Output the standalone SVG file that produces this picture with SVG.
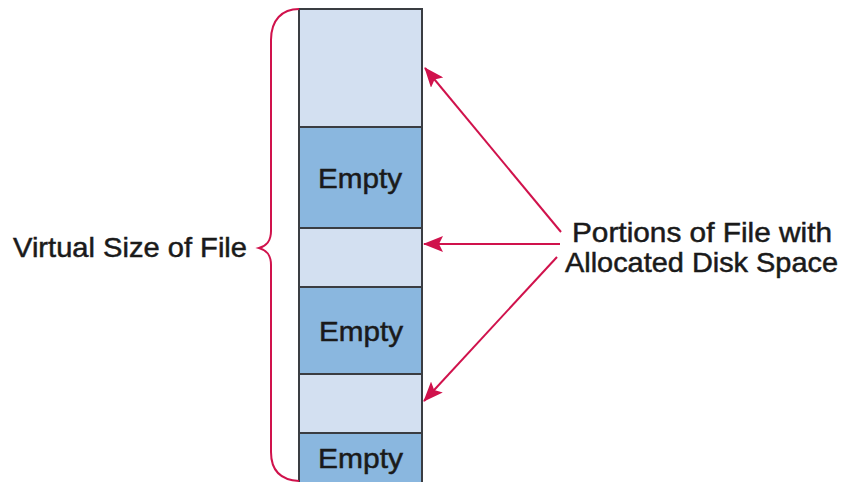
<svg xmlns="http://www.w3.org/2000/svg" width="841" height="482" viewBox="0 0 841 482">
  <style>
    .alloc { fill: #d3e0f1; stroke: #3a3d42; stroke-width: 2; }
    .empty { fill: #8ab7df; stroke: #3a3d42; stroke-width: 2; }
    .lbl { font-family: "Liberation Sans", Arial, sans-serif; font-size: 28px; fill: #1a1a1a; stroke: #1a1a1a; stroke-width: 0.5; }
    .mid { text-anchor: middle; }
    .red { stroke: #d0124c; stroke-width: 2; fill: none; }
  </style>
  <defs>
    <marker id="arrowheadL" viewBox="0 0 20 16" refX="19" refY="8" markerWidth="20" markerHeight="16" markerUnits="userSpaceOnUse" orient="auto">
      <path d="M0,0 L20,8 L0,16 L4,8 z" fill="#d0124c"/>
    </marker>
  </defs>

  <!-- file blocks, top to bottom -->
  <g id="block1"><rect class="alloc" x="299" y="9" width="123" height="118"/></g>
  <g id="block2"><rect class="empty" x="299" y="127" width="123" height="101"/>
    <text class="lbl" x="318" y="188" font-size="29" textLength="84" lengthAdjust="spacingAndGlyphs">Empty</text></g>
  <g id="block3"><rect class="alloc" x="299" y="228" width="123" height="59"/></g>
  <g id="block4"><rect class="empty" x="299" y="287" width="123" height="87"/>
    <text class="lbl" x="319" y="341" font-size="29" textLength="84" lengthAdjust="spacingAndGlyphs">Empty</text></g>
  <g id="block5"><rect class="alloc" x="299" y="374" width="123" height="59"/></g>
  <g id="block6"><rect class="empty" x="299" y="433" width="123" height="60"/>
    <text class="lbl" x="318" y="468" font-size="29" textLength="85" lengthAdjust="spacingAndGlyphs">Empty</text></g>

  <!-- brace spanning the whole file -->
  <g id="brace">
    <path class="red" d="M299,9 C282,9 271,20 271,40 L271,231 C271,242 266,246 259,248 C266,250 271,254 271,265 L271,452 C271,470 280,480 299,481"/>
  </g>

  <g id="label-virtual">
    <text class="lbl" x="13" y="257" font-size="29" textLength="234" lengthAdjust="spacingAndGlyphs">Virtual Size of File</text>
  </g>

  <g id="label-allocated">
    <text class="lbl" x="572" y="242" textLength="260" lengthAdjust="spacingAndGlyphs">Portions of File with</text>
    <text class="lbl" x="565" y="272" textLength="273" lengthAdjust="spacingAndGlyphs">Allocated Disk Space</text>
  </g>

  <!-- connectors -->
  <g id="connectors">
    <line class="red" x1="561" y1="232" x2="425" y2="68" marker-end="url(#arrowheadL)"/>
    <line class="red" x1="560" y1="244" x2="424" y2="244" marker-end="url(#arrowheadL)"/>
    <line class="red" x1="557" y1="257" x2="424" y2="401" marker-end="url(#arrowheadL)"/>
  </g>
</svg>
